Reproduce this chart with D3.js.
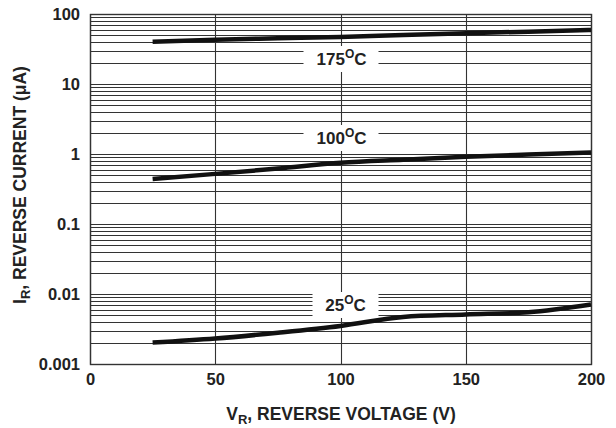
<!DOCTYPE html>
<html>
<head>
<meta charset="utf-8">
<script src="https://cdn.jsdelivr.net/npm/d3@7"></script>
<style>
  body { margin: 0; background: #fff; }
  text { font-family: "Liberation Sans", Arial, sans-serif; fill: #222; }
</style>
</head>
<body>
<svg id="chart" width="616" height="428"></svg>
<script>
// reverse voltage (V) sample points
const voltages = [25, 50, 75, 100, 125, 150, 175, 200];
// reverse current (uA) per temperature
const i175 = [40, 43, 45, 47, 50, 53, 56, 59];
const i100 = [0.44, 0.52, 0.62, 0.75, 0.83, 0.91, 0.98, 1.05];
const i25 = [0.00202, 0.00231, 0.0028, 0.0035, 0.0047, 0.0051, 0.0055, 0.0071];
const curveLabels = ['175', '100', '25'];
const xTicks = [0, 50, 100, 150, 200];
const yTicks = [0.001, 0.01, 0.1, 1, 10, 100];

const svg = d3.select('#chart');
const margin = { top: 14, right: 25, bottom: 64, left: 90 };
const width = 616 - margin.left - margin.right;
const height = 428 - margin.top - margin.bottom;

const x = d3.scaleLinear().domain([0, 200]).range([0, width]);
const y = d3.scaleLog().domain([0.001, 100]).range([height, 0]);

const g = svg.append('g').attr('transform', `translate(${margin.left},${margin.top})`);

// minor gridlines, 1..9 in every decade
const gridVals = [];
yTicks.slice(0, -1).forEach((d) => {
  for (let k = 1; k < 10; k++) gridVals.push(d * k);
});
gridVals.push(100);

g.append('g')
  .selectAll('line')
  .data(gridVals)
  .join('line')
  .attr('x1', 0)
  .attr('x2', width)
  .attr('y1', d => Math.round(y(d)) + 0.5)
  .attr('y2', d => Math.round(y(d)) + 0.5)
  .attr('stroke', '#333')
  .attr('stroke-width', 1.1);

g.append('g')
  .selectAll('line')
  .data(xTicks)
  .join('line')
  .attr('x1', d => Math.round(x(d)) + 0.5)
  .attr('x2', d => Math.round(x(d)) + 0.5)
  .attr('y1', 0)
  .attr('y2', height)
  .attr('stroke', '#333')
  .attr('stroke-width', 1.1);

g.append('rect')
  .attr('x', 0.5)
  .attr('y', 0.5)
  .attr('width', width)
  .attr('height', height)
  .attr('fill', 'none')
  .attr('stroke', '#333')
  .attr('stroke-width', 1.4);

// curve labels sit in white boxes that cut the grid
const labelPos = [
  { v: 100, c: 59 },
  { v: 100, c: 138 },
  { v: 100, c: 305 }
];
const labels = g.append('g');
curveLabels.forEach((t, i) => {
  const cx = x(labelPos[i].v);
  const cy = labelPos[i].c - margin.top;
  const short = t.length === 2;
  labels.append('rect')
    .attr('x', cx - (short ? 28 : 37))
    .attr('y', cy - 13)
    .attr('width', short ? 66 : 75)
    .attr('height', 26)
    .attr('fill', '#fff');
  const txt = labels.append('text')
    .attr('x', cx + (short ? 5 : 1))
    .attr('y', cy + 6)
    .attr('text-anchor', 'middle')
    .attr('font-size', 17)
    .attr('font-weight', 'bold')
    .attr('fill', '#333');
  txt.append('tspan').text(t);
  txt.append('tspan').attr('dy', -7).attr('font-size', 12).text('O');
  txt.append('tspan').attr('dy', 7).text('C');
});

// curves
const line = d3.line()
  .x((d, i) => x(voltages[i]))
  .y(d => y(d))
  .curve(d3.curveMonotoneX);

g.append('g')
  .selectAll('path')
  .data([i175, i100, i25])
  .join('path')
  .attr('d', line)
  .attr('fill', 'none')
  .attr('stroke', '#111')
  .attr('stroke-width', 4.5);

// axes
const xAxis = g.append('g')
  .attr('transform', `translate(0,${height})`)
  .call(d3.axisBottom(x).tickValues(xTicks).tickSize(0).tickPadding(9));
xAxis.select('.domain').remove();
xAxis.selectAll('text')
  .attr('font-size', 16.5)
  .attr('font-weight', 'bold')
  .attr('fill', '#222');

const yAxis = g.append('g')
  .call(d3.axisLeft(y).tickValues(yTicks).tickSize(0).tickPadding(10)
    .tickFormat(d3.format('~g')));
yAxis.select('.domain').remove();
yAxis.selectAll('text')
  .attr('font-size', 16.5)
  .attr('font-weight', 'bold')
  .attr('fill', '#222');

// axis titles
const xt = svg.append('text')
  .attr('x', 341)
  .attr('y', 420)
  .attr('text-anchor', 'middle')
  .attr('font-size', 17.5)
  .attr('font-weight', 'bold')
  .attr('fill', '#222');
xt.append('tspan').text('V');
xt.append('tspan').attr('dy', 4).attr('font-size', 13).text('R');
xt.append('tspan').attr('dy', -4).text(', REVERSE VOLTAGE (V)');

const yt = svg.append('text')
  .attr('transform', 'translate(26,185) rotate(-90)')
  .attr('text-anchor', 'middle')
  .attr('font-size', 17.5)
  .attr('font-weight', 'bold')
  .attr('fill', '#222');
yt.append('tspan').text('I');
yt.append('tspan').attr('dy', 4).attr('font-size', 13).text('R');
yt.append('tspan').attr('dy', -4).text(', REVERSE CURRENT (\u03bcA)');
</script>
</body>
</html>
